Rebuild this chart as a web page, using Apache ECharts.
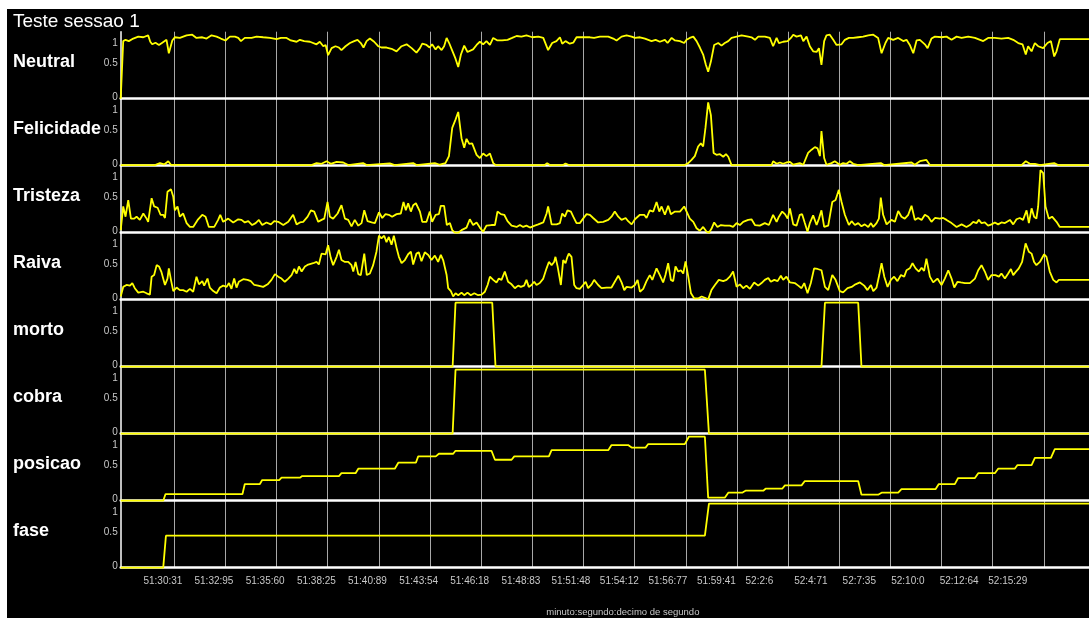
<!DOCTYPE html>
<html><head><meta charset="utf-8">
<script src="https://cdn.jsdelivr.net/npm/echarts@6/dist/echarts.min.js"></script>
<style>
html,body{margin:0;padding:0;background:#fff;width:1089px;height:618px;overflow:hidden}
#c{position:absolute;left:7px;top:9px;width:1082px;height:609px;background:#000}
</style></head><body><div id="c"></div>
<script>
const chartTitle = 'Teste sessao 1';
const panelNames = ['Neutral','Felicidade','Tristeza','Raiva','morto','cobra','posicao','fase'];
const xTickLabels = ['51:30:31','51:32:95','51:35:60','51:38:25','51:40:89','51:43:54','51:46:18','51:48:83','51:51:48','51:54:12','51:56:77','51:59:41','52:2:6','52:4:71','52:7:35','52:10:0','52:12:64','52:15:29'];
const xAxisName = 'minuto:segundo:decimo de segundo';
const yTickValues = [0, 0.5, 1];
const xMin = 27.54, xMax = 77.63, yMax = 1.047;

// [seconds after 51:00, value]
const neutral = [[27.54,0],[27.67,0.90],[27.79,0.92],[27.96,0.90],[28.19,0.94],[28.45,0.97],[28.71,0.96],[28.96,0.99],[29.07,0.89],[29.17,0.85],[29.34,0.875],[29.52,0.84],[29.69,0.875],[29.91,0.92],[30.03,0.71],[30.21,0.91],[30.34,0.96],[30.60,0.95],[30.95,0.99],[31.24,1.0],[31.46,0.95],[31.76,0.96],[31.98,0.94],[32.24,0.99],[32.50,0.97],[32.72,0.94],[32.96,0.91],[33.19,0.97],[33.45,0.97],[33.62,0.95],[33.76,0.90],[33.96,0.95],[34.31,0.95],[34.57,0.97],[34.91,0.96],[35.26,0.95],[35.60,0.93],[35.83,0.95],[36.12,0.95],[36.34,0.91],[36.64,0.89],[36.81,0.92],[37.03,0.90],[37.33,0.89],[37.67,0.85],[37.84,0.89],[38.02,0.82],[38.14,0.84],[38.27,0.68],[38.45,0.79],[38.65,0.82],[38.83,0.80],[38.96,0.76],[39.17,0.82],[39.40,0.87],[39.62,0.90],[39.79,0.92],[39.96,0.87],[40.10,0.80],[40.26,0.90],[40.43,0.94],[40.65,0.89],[40.86,0.82],[41.03,0.80],[41.29,0.80],[41.55,0.78],[41.81,0.74],[42.07,0.82],[42.33,0.85],[42.59,0.79],[42.84,0.72],[43.02,0.79],[43.14,0.86],[43.36,0.84],[43.52,0.80],[43.65,0.85],[43.83,0.77],[43.96,0.82],[44.14,0.76],[44.27,0.82],[44.40,0.95],[44.53,0.87],[44.69,0.75],[44.86,0.625],[45.00,0.495],[45.14,0.69],[45.31,0.83],[45.48,0.73],[45.77,0.77],[45.95,0.84],[46.12,0.89],[46.29,0.85],[46.46,0.90],[46.64,0.84],[46.81,0.95],[47.03,0.91],[47.27,0.91],[47.55,0.92],[47.79,0.95],[48.02,0.98],[48.27,0.97],[48.53,0.99],[48.83,0.96],[49.14,0.97],[49.40,0.95],[49.65,0.76],[49.86,0.87],[50.08,0.90],[50.26,0.96],[50.38,0.86],[50.55,0.90],[50.77,0.86],[50.95,0.875],[51.12,0.96],[51.46,0.96],[51.81,0.96],[52.03,0.95],[52.33,0.97],[52.76,0.97],[53.02,0.94],[53.19,0.91],[53.45,0.97],[53.71,0.99],[53.97,0.97],[54.14,0.95],[54.40,0.96],[54.66,0.94],[54.83,0.92],[55.00,0.90],[55.21,0.92],[55.43,0.89],[55.69,0.92],[55.83,0.87],[56.04,0.95],[56.21,0.91],[56.47,0.90],[56.69,0.87],[56.81,0.92],[56.98,0.95],[57.16,0.97],[57.33,0.90],[57.50,0.80],[57.67,0.69],[57.81,0.53],[57.93,0.42],[58.07,0.58],[58.24,0.84],[58.45,0.87],[58.62,0.83],[58.79,0.87],[58.97,0.90],[59.14,0.95],[59.40,0.97],[59.66,0.99],[60.00,0.97],[60.17,0.96],[60.35,0.92],[60.52,0.97],[60.86,0.97],[61.12,0.95],[61.29,0.82],[61.47,0.95],[61.59,0.87],[61.81,0.89],[62.04,0.90],[62.21,0.95],[62.33,1.0],[62.50,0.97],[62.73,0.99],[62.85,0.90],[63.02,0.97],[63.19,0.82],[63.36,0.74],[63.54,0.73],[63.66,0.79],[63.79,0.53],[63.93,0.90],[64.05,0.99],[64.22,1.0],[64.40,0.92],[64.57,0.84],[64.83,0.85],[65.00,0.92],[65.21,0.95],[65.43,0.95],[65.69,0.96],[65.95,0.97],[66.21,0.99],[66.47,1.0],[66.72,0.95],[66.90,0.71],[67.10,0.87],[67.24,0.95],[67.50,0.92],[67.76,0.95],[68.02,0.90],[68.19,0.92],[68.36,0.84],[68.54,0.71],[68.71,0.91],[68.88,0.92],[69.14,0.85],[69.28,0.79],[69.48,0.94],[69.66,0.97],[70.00,0.96],[70.26,0.97],[70.52,0.92],[70.78,0.97],[71.04,0.95],[71.38,0.97],[71.73,0.95],[72.16,0.90],[72.41,0.95],[72.76,0.95],[73.10,0.94],[73.45,0.95],[73.71,0.92],[73.97,0.87],[74.19,0.85],[74.36,0.69],[74.48,0.82],[74.66,0.74],[74.83,0.87],[75.00,0.82],[75.26,0.79],[75.48,0.87],[75.66,0.90],[75.83,0.66],[75.95,0.74],[76.12,0.93],[77.63,0.93]];

const felicidade = [[27.54,0.01],[29.31,0.01],[29.57,0.04],[29.79,0.02],[30.00,0.07],[30.14,0.015],[37.41,0.01],[37.67,0.04],[37.93,0.03],[38.19,0.07],[38.41,0.03],[38.71,0.06],[39.05,0.05],[39.31,0.01],[40.08,0.04],[40.26,0.01],[41.46,0.035],[41.72,0.01],[42.67,0.04],[42.84,0.01],[43.79,0.04],[44.05,0.015],[44.34,0.04],[44.52,0.15],[44.69,0.59],[44.86,0.72],[45.00,0.84],[45.17,0.43],[45.31,0.28],[45.43,0.42],[45.57,0.34],[45.72,0.35],[45.95,0.17],[46.12,0.12],[46.29,0.19],[46.46,0.15],[46.64,0.19],[46.81,0.04],[46.93,0.01],[49.48,0.01],[49.60,0.04],[49.74,0.01],[50.43,0.01],[50.55,0.035],[50.72,0.01],[56.72,0.01],[56.90,0.04],[57.07,0.09],[57.24,0.15],[57.41,0.30],[57.55,0.35],[57.67,0.30],[57.79,0.59],[57.93,0.99],[58.07,0.79],[58.21,0.20],[58.36,0.17],[58.54,0.18],[58.71,0.14],[58.85,0.18],[58.97,0.14],[59.14,0.01],[61.21,0.01],[61.29,0.07],[61.47,0.03],[61.64,0.05],[61.81,0.03],[61.98,0.05],[62.16,0.06],[62.33,0.015],[62.67,0.04],[62.85,0.015],[63.10,0.20],[63.28,0.25],[63.45,0.29],[63.59,0.27],[63.71,0.15],[63.79,0.54],[63.93,0.12],[64.05,0.015],[64.31,0.04],[64.48,0.07],[64.74,0.015],[64.91,0.04],[65.09,0.03],[65.26,0.07],[65.43,0.03],[65.69,0.01],[66.86,0.04],[67.03,0.01],[68.45,0.05],[68.62,0.015],[68.88,0.07],[69.22,0.09],[69.40,0.01],[74.14,0.01],[74.36,0.07],[74.57,0.03],[74.83,0.03],[75.09,0.01],[75.83,0.04],[76.03,0.01],[77.63,0.01]];

const tristeza = [[27.54,0.04],[27.67,0.41],[27.79,0.25],[27.93,0.51],[28.07,0.22],[28.24,0.22],[28.36,0.25],[28.53,0.20],[28.71,0.30],[28.88,0.22],[28.96,0.17],[29.14,0.54],[29.27,0.41],[29.45,0.39],[29.60,0.28],[29.74,0.28],[29.83,0.23],[29.96,0.64],[30.14,0.68],[30.26,0.56],[30.34,0.35],[30.48,0.41],[30.60,0.25],[30.77,0.30],[30.95,0.15],[31.12,0.09],[31.29,0.09],[31.52,0.20],[31.76,0.28],[31.93,0.25],[32.10,0.09],[32.38,0.09],[32.58,0.20],[32.69,0.28],[32.84,0.17],[33.10,0.22],[33.36,0.16],[33.62,0.21],[33.79,0.20],[33.96,0.16],[34.14,0.18],[34.34,0.12],[34.52,0.15],[34.69,0.20],[34.86,0.12],[35.08,0.16],[35.31,0.13],[35.48,0.18],[35.69,0.17],[35.95,0.12],[36.21,0.17],[36.46,0.28],[36.64,0.13],[36.81,0.16],[36.98,0.17],[37.21,0.25],[37.38,0.35],[37.55,0.33],[37.76,0.17],[37.93,0.20],[38.07,0.22],[38.24,0.48],[38.36,0.25],[38.53,0.22],[38.76,0.30],[38.96,0.43],[39.14,0.22],[39.31,0.20],[39.48,0.10],[39.65,0.20],[39.83,0.11],[40.00,0.15],[40.14,0.35],[40.31,0.18],[40.52,0.16],[40.69,0.15],[40.90,0.32],[41.07,0.23],[41.24,0.29],[41.41,0.28],[41.58,0.25],[41.81,0.29],[42.03,0.30],[42.17,0.48],[42.29,0.35],[42.41,0.46],[42.55,0.33],[42.67,0.43],[42.81,0.46],[43.02,0.33],[43.14,0.17],[43.36,0.17],[43.53,0.33],[43.65,0.17],[43.83,0.28],[44.00,0.29],[44.10,0.42],[44.27,0.42],[44.41,0.12],[44.57,0.15],[44.69,0.04],[44.83,0],[45.00,0],[45.17,0.04],[45.43,0.08],[45.60,0.21],[45.77,0.12],[45.95,0.16],[46.12,0.08],[46.29,0.015],[46.46,0.11],[46.72,0.12],[46.90,0.12],[47.03,0.33],[47.21,0.29],[47.38,0.28],[47.55,0.18],[47.76,0.11],[48.02,0.09],[48.19,0.12],[48.36,0.09],[48.53,0.11],[48.71,0.08],[48.96,0.11],[49.14,0.13],[49.40,0.16],[49.57,0.30],[49.65,0.41],[49.83,0.13],[50.09,0.13],[50.26,0.15],[50.38,0.30],[50.52,0.25],[50.65,0.35],[50.83,0.33],[50.95,0.25],[51.12,0.15],[51.29,0.15],[51.46,0.22],[51.64,0.29],[51.81,0.28],[51.98,0.23],[52.07,0.20],[52.24,0.16],[52.50,0.17],[52.76,0.20],[52.93,0.25],[53.10,0.33],[53.28,0.25],[53.45,0.20],[53.66,0.23],[53.79,0.18],[53.97,0.13],[54.14,0.21],[54.40,0.28],[54.62,0.28],[54.74,0.23],[54.91,0.35],[55.09,0.33],[55.26,0.48],[55.40,0.33],[55.52,0.41],[55.69,0.28],[55.86,0.42],[56.00,0.29],[56.21,0.33],[56.47,0.33],[56.69,0.41],[56.76,0.43],[56.98,0.22],[57.16,0.17],[57.33,0.07],[57.50,0.03],[57.67,0.09],[57.85,0.015],[57.97,0],[58.10,0.06],[58.24,0.16],[58.41,0.09],[58.59,0.12],[58.79,0.11],[59.05,0.11],[59.22,0.09],[59.40,0.15],[59.57,0.12],[59.74,0.17],[60.00,0.20],[60.17,0.21],[60.35,0.12],[60.60,0.11],[60.86,0.15],[61.07,0.12],[61.17,0.09],[61.29,0.28],[61.47,0.17],[61.59,0.25],[61.76,0.33],[61.90,0.29],[62.04,0.22],[62.16,0.38],[62.33,0.13],[62.50,0.11],[62.67,0.28],[62.79,0.29],[62.93,0.15],[63.07,0.015],[63.19,0.15],[63.36,0.27],[63.54,0.12],[63.66,0.22],[63.79,0.35],[63.93,0.09],[64.14,0.11],[64.35,0.48],[64.52,0.51],[64.69,0.67],[64.83,0.48],[65.00,0.28],[65.21,0.12],[65.35,0.18],[65.52,0.12],[65.69,0.15],[65.86,0.10],[66.03,0.13],[66.21,0.09],[66.35,0.15],[66.47,0.09],[66.64,0.15],[66.76,0.22],[66.86,0.55],[66.98,0.28],[67.16,0.13],[67.41,0.20],[67.59,0.17],[67.76,0.34],[67.93,0.25],[68.10,0.22],[68.28,0.28],[68.45,0.42],[68.62,0.20],[68.79,0.23],[68.97,0.20],[69.14,0.28],[69.31,0.25],[69.48,0.17],[69.66,0.23],[69.91,0.22],[70.09,0.23],[70.26,0.20],[70.52,0.15],[70.78,0.09],[71.04,0.13],[71.29,0.09],[71.47,0.12],[71.64,0.17],[71.81,0.15],[71.93,0.20],[72.07,0.15],[72.24,0.16],[72.41,0.11],[72.59,0.13],[72.76,0.16],[72.93,0.13],[73.10,0.16],[73.28,0.15],[73.54,0.20],[73.71,0.13],[73.88,0.21],[74.05,0.23],[74.22,0.20],[74.40,0.35],[74.52,0.15],[74.66,0.38],[74.79,0.25],[74.91,0.22],[75.00,0.41],[75.12,0.98],[75.26,0.93],[75.38,0.41],[75.55,0.22],[75.72,0.25],[75.95,0.17],[76.12,0.09],[77.63,0.09]];

const raiva = [[27.54,0.05],[27.67,0.20],[27.84,0.23],[28.02,0.22],[28.14,0.26],[28.27,0.18],[28.45,0.11],[28.71,0.125],[28.88,0.10],[29.05,0.08],[29.14,0.36],[29.27,0.385],[29.40,0.54],[29.52,0.52],[29.65,0.43],[29.83,0.23],[29.96,0.33],[30.03,0.49],[30.14,0.31],[30.26,0.135],[30.43,0.19],[30.60,0.15],[30.77,0.15],[30.95,0.125],[31.12,0.17],[31.29,0.125],[31.46,0.36],[31.59,0.24],[31.76,0.29],[31.86,0.22],[32.03,0.33],[32.15,0.19],[32.33,0.135],[32.50,0.10],[32.67,0.19],[32.84,0.22],[33.02,0.20],[33.14,0.26],[33.27,0.17],[33.41,0.33],[33.53,0.19],[33.65,0.28],[33.88,0.32],[34.10,0.31],[34.27,0.29],[34.45,0.23],[34.65,0.22],[34.91,0.20],[35.14,0.24],[35.34,0.31],[35.52,0.40],[35.69,0.36],[35.86,0.33],[36.03,0.28],[36.21,0.33],[36.38,0.385],[36.52,0.48],[36.64,0.41],[36.76,0.52],[36.90,0.44],[37.07,0.52],[37.24,0.55],[37.50,0.57],[37.67,0.59],[37.79,0.55],[37.93,0.72],[38.14,0.71],[38.27,0.85],[38.41,0.65],[38.53,0.54],[38.71,0.67],[38.83,0.78],[38.96,0.62],[39.14,0.59],[39.31,0.59],[39.48,0.54],[39.57,0.44],[39.69,0.59],[39.83,0.40],[39.96,0.385],[40.14,0.72],[40.27,0.385],[40.43,0.41],[40.60,0.54],[40.77,0.75],[40.90,1.0],[41.03,0.96],[41.17,1.0],[41.29,0.90],[41.41,0.98],[41.55,0.86],[41.67,1.0],[41.81,0.81],[41.93,0.67],[42.07,0.57],[42.24,0.62],[42.41,0.71],[42.55,0.75],[42.67,0.55],[42.84,0.72],[42.96,0.74],[43.10,0.60],[43.27,0.74],[43.45,0.70],[43.62,0.62],[43.79,0.69],[43.96,0.59],[44.10,0.70],[44.22,0.62],[44.40,0.385],[44.48,0.18],[44.62,0.135],[44.74,0.05],[44.86,0.10],[45.00,0.07],[45.17,0.11],[45.31,0.07],[45.48,0.11],[45.65,0.07],[45.83,0.10],[46.03,0.07],[46.21,0.08],[46.38,0.125],[46.52,0.23],[46.64,0.36],[46.81,0.31],[46.98,0.27],[47.10,0.33],[47.24,0.31],[47.41,0.44],[47.58,0.28],[47.76,0.24],[47.93,0.18],[48.10,0.22],[48.24,0.20],[48.41,0.22],[48.53,0.31],[48.65,0.20],[48.79,0.23],[48.93,0.28],[49.05,0.23],[49.22,0.26],[49.40,0.33],[49.57,0.49],[49.69,0.59],[49.83,0.54],[49.96,0.59],[50.03,0.67],[50.14,0.52],[50.31,0.23],[50.43,0.62],[50.55,0.57],[50.65,0.67],[50.72,0.72],[50.86,0.67],[51.00,0.23],[51.12,0.18],[51.29,0.17],[51.46,0.23],[51.59,0.28],[51.72,0.18],[51.90,0.24],[52.03,0.31],[52.24,0.23],[52.41,0.18],[52.67,0.19],[52.93,0.19],[53.10,0.28],[53.28,0.375],[53.45,0.27],[53.59,0.15],[53.71,0.20],[53.97,0.19],[54.14,0.23],[54.28,0.31],[54.40,0.125],[54.57,0.17],[54.74,0.29],[54.91,0.385],[55.04,0.31],[55.26,0.49],[55.43,0.385],[55.60,0.27],[55.72,0.385],[55.86,0.57],[56.00,0.31],[56.12,0.29],[56.24,0.52],[56.38,0.44],[56.52,0.46],[56.64,0.41],[56.76,0.60],[56.90,0.36],[57.04,0.10],[57.21,0.02],[57.41,0.02],[57.59,0.05],[57.76,0.03],[57.93,0.005],[58.10,0.15],[58.28,0.23],[58.48,0.31],[58.71,0.29],[58.88,0.31],[59.05,0.36],[59.22,0.44],[59.40,0.20],[59.57,0.24],[59.74,0.18],[59.91,0.22],[60.09,0.17],[60.31,0.27],[60.52,0.22],[60.69,0.26],[60.86,0.31],[61.04,0.34],[61.17,0.28],[61.35,0.31],[61.52,0.29],[61.69,0.375],[61.81,0.31],[61.98,0.36],[62.16,0.27],[62.41,0.26],[62.59,0.22],[62.76,0.18],[62.90,0.26],[63.07,0.10],[63.24,0.26],[63.41,0.49],[63.59,0.48],[63.79,0.46],[63.97,0.20],[64.14,0.15],[64.35,0.385],[64.52,0.31],[64.74,0.135],[64.91,0.115],[65.14,0.18],[65.35,0.20],[65.55,0.24],[65.78,0.27],[66.00,0.22],[66.17,0.15],[66.35,0.23],[66.47,0.135],[66.64,0.19],[66.78,0.385],[66.90,0.57],[67.04,0.36],[67.21,0.20],[67.38,0.31],[67.55,0.36],[67.72,0.29],[67.90,0.385],[68.07,0.36],[68.19,0.46],[68.36,0.49],[68.50,0.57],[68.66,0.49],[68.83,0.44],[68.97,0.50],[69.10,0.45],[69.22,0.64],[69.40,0.36],[69.57,0.27],[69.79,0.33],[70.00,0.23],[70.17,0.33],[70.35,0.46],[70.52,0.33],[70.66,0.19],[70.83,0.28],[71.00,0.27],[71.21,0.26],[71.47,0.26],[71.73,0.33],[71.90,0.46],[72.07,0.54],[72.24,0.44],[72.41,0.31],[72.59,0.385],[72.79,0.385],[72.97,0.36],[73.10,0.41],[73.28,0.33],[73.45,0.41],[73.59,0.48],[73.71,0.385],[73.83,0.43],[74.00,0.49],[74.17,0.59],[74.35,0.88],[74.52,0.75],[74.66,0.72],[74.79,0.59],[74.91,0.54],[75.09,0.59],[75.31,0.71],[75.43,0.67],[75.60,0.44],[75.78,0.31],[75.95,0.27],[76.07,0.31],[77.63,0.31]];

const morto = [[27.54,0],[44.71,0],[44.86,1],[46.76,1],[46.93,0],[63.79,0],[63.97,1],[65.69,1],[65.86,0],[77.63,0]];
const cobra = [[27.54,0],[44.71,0],[44.86,1],[57.76,1],[57.97,0],[77.63,0]];
const posicao = [[27.54,0],[29.74,0],[29.86,0.104],[33.84,0.104],[33.96,0.26],[34.74,0.26],[34.86,0.323],[35.74,0.323],[35.86,0.36],[36.81,0.36],[36.93,0.385],[38.83,0.385],[38.96,0.43],[39.69,0.43],[39.83,0.50],[41.72,0.50],[41.90,0.594],[42.81,0.594],[42.93,0.693],[43.84,0.693],[44.00,0.734],[44.74,0.734],[44.86,0.78],[46.72,0.78],[46.90,0.64],[47.76,0.64],[47.90,0.693],[49.69,0.693],[49.83,0.79],[52.76,0.79],[52.93,0.87],[53.79,0.87],[53.97,0.83],[54.69,0.83],[54.83,0.885],[56.72,0.885],[56.93,1.0],[57.76,1.0],[57.93,0.047],[58.79,0.047],[58.97,0.125],[59.69,0.125],[59.86,0.156],[60.78,0.156],[60.90,0.1875],[61.76,0.1875],[61.90,0.24],[62.76,0.24],[62.93,0.307],[65.69,0.307],[65.86,0.094],[66.72,0.094],[66.90,0.125],[67.76,0.125],[67.93,0.18],[69.69,0.18],[69.86,0.26],[70.69,0.26],[70.86,0.354],[71.73,0.354],[71.90,0.43],[72.76,0.43],[72.93,0.50],[73.79,0.50],[73.93,0.557],[74.66,0.557],[74.83,0.67],[75.66,0.67],[75.86,0.807],[77.63,0.807]];
const fase = [[27.54,0],[29.74,0],[29.88,0.5],[57.76,0.5],[57.97,1],[77.63,1]];

const seriesData = [neutral, felicidade, tristeza, raiva, morto, cobra, posicao, fase];

// ---- layout ----
const W = 1082, GRID_LEFT = 113.7, FIRST_TOP = 22.7, PANEL_H = 67;
const YELLOW = '#ffff00', GRIDC = '#a8a8a8', TXT = '#c8c8c8';

function parseStamp(s) { const p = s.split(':').map(Number); return (p[0] - 51) * 60 + p[1] + p[2] / 100; }
const tickTimes = xTickLabels.map(parseStamp);
const secPerPx = (xMax - xMin) / (W - GRID_LEFT);
// labels are drawn left-aligned, slightly left of their grid line (drifting in the original)
const labelValues = tickTimes.map((t, k) => t - (k <= 7 ? 30.8 : 30.8 + 2.6 * (k - 7.5)) * secPerPx);
function labelFor(v) {
  let best = 0;
  labelValues.forEach((lv, i) => { if (Math.abs(lv - v) < Math.abs(labelValues[best] - v)) best = i; });
  return xTickLabels[best];
}
const yRichKey = v => (v === 0 ? 'z' : v === 1 ? 'o' : 'h');

const grids = [], xAxes = [], yAxes = [], series = [];
const titles = [{
  text: chartTitle, left: 6, top: 2, padding: 0,
  textStyle: { color: '#fff', fontFamily: 'Liberation Sans', fontWeight: 'normal', fontSize: 19, lineHeight: 21 }
}];
panelNames.forEach((name, k) => {
  const top = FIRST_TOP + PANEL_H * k;
  const last = k === panelNames.length - 1;
  grids.push({ left: GRID_LEFT, right: 0, top: top, height: PANEL_H, containLabel: false, outerBoundsMode: 'none' });
  titles.push({
    text: name, left: 6, top: top + 20.3, padding: 0,
    textStyle: { color: '#fff', fontFamily: 'Liberation Sans', fontWeight: 'bold', fontSize: 18, lineHeight: 20 }
  });
  xAxes.push({
    type: 'value', gridIndex: k, min: xMin, max: xMax,
    axisLine: { show: true, onZero: false, lineStyle: { color: '#fff', width: 2.5 } },
    axisTick: { show: false, customValues: tickTimes },
    splitLine: { show: true, lineStyle: { color: GRIDC, width: 1 } },
    axisLabel: last ? {
      show: true, customValues: labelValues, formatter: v => labelFor(v), align: 'left',
      color: TXT, fontFamily: 'Liberation Sans', fontSize: 10, margin: 9
    } : { show: false },
    name: last ? xAxisName : '',
    nameLocation: 'middle', nameGap: 40,
    nameTextStyle: { color: TXT, fontFamily: 'Liberation Sans', fontSize: 9.5, padding: [0, 0, 0, 36] }
  });
  yAxes.push({
    type: 'value', gridIndex: k, min: 0, max: yMax,
    axisLine: { show: true, onZero: false, lineStyle: { color: '#fff', width: 1.5 } },
    axisTick: { show: false },
    splitLine: { show: false },
    axisLabel: {
      show: true, customValues: yTickValues, margin: 3,
      color: TXT, fontFamily: 'Liberation Sans', fontSize: 10,
      formatter: v => '{' + yRichKey(v) + '|' + v + '}',
      rich: {
        z: { color: TXT, fontFamily: 'Liberation Sans', fontSize: 10, padding: [0, 0, 3, 0] },
        h: { color: TXT, fontFamily: 'Liberation Sans', fontSize: 10, padding: [0, 0, 7, 0] },
        o: { color: TXT, fontFamily: 'Liberation Sans', fontSize: 10, padding: [18, 0, 0, 0] }
      }
    }
  });
  series.push({
    name: name, type: 'line', xAxisIndex: k, yAxisIndex: k,
    data: seriesData[k], showSymbol: false, symbol: 'none', clip: false,
    lineStyle: { color: YELLOW, width: 1.8 }, z: 3
  });
});

const chart = echarts.init(document.getElementById('c'));
chart.setOption({
  animation: false,
  backgroundColor: '#000',
  title: titles,
  grid: grids, xAxis: xAxes, yAxis: yAxes, series: series
});
</script></body></html>
